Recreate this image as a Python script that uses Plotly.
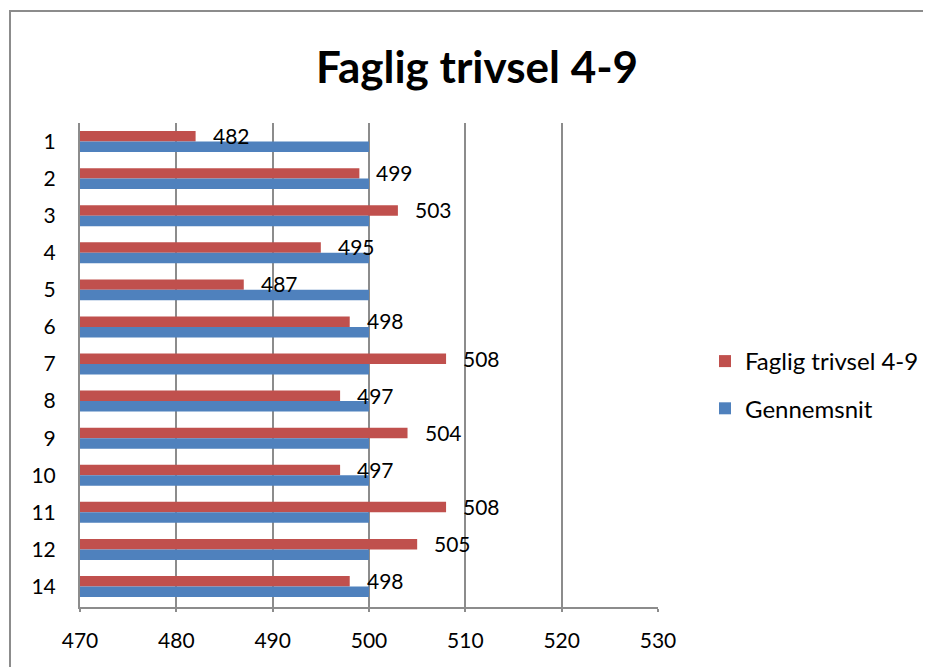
import plotly.graph_objects as go

# data
categories = ["1", "2", "3", "4", "5", "6", "7", "8", "9", "10", "11", "12", "14"]
faglig_trivsel = [482, 499, 503, 495, 487, 498, 508, 497, 504, 497, 508, 505, 498]
gennemsnit = [500] * len(categories)
x_ticks = [470, 480, 490, 500, 510, 520, 530]

# the page body adds an 8px margin, so the figure is made 8px smaller
# and reference pixel positions are shifted by the same amount
PAD = 8
W, H = 931 - PAD, 667 - PAD
RED = "#C0504D"
BLUE = "#4F81BD"
GRID = "#8C8C8C"
FONT = "Lato, 'Open Sans', sans-serif"


def px_x(x):
    return (x - PAD) / W


def px_y(y):
    return 1 - (y - PAD) / H


fig = go.Figure()
fig.add_trace(go.Bar(
    y=categories, x=faglig_trivsel, orientation="h",
    name="Faglig trivsel 4-9", marker_color=RED, legendgroup="a",
    marker_line_width=0,
))
fig.add_trace(go.Bar(
    y=categories, x=gennemsnit, orientation="h",
    name="Gennemsnit", marker_color=BLUE, legendgroup="b",
    marker_line_width=0,
))

# data labels at the end of the red bars (y given as category index)
for i, val in enumerate(faglig_trivsel):
    fig.add_annotation(
        x=val, y=i, text=str(val), showarrow=False,
        xanchor="left", yanchor="middle", xshift=15, yshift=6,
        font=dict(size=21, color="#000000", family=FONT),
    )

# title
fig.add_annotation(
    x=px_x(477), y=px_y(66), xref="paper", yref="paper",
    text="<b>Faglig trivsel 4-9</b>", showarrow=False,
    xanchor="center", yanchor="middle",
    font=dict(size=44, color="#000000", family=FONT),
)

# chart-area border (left and top edges visible)
fig.add_shape(
    type="path", xref="paper", yref="paper",
    path=f"M {px_x(10)} 0 L {px_x(10)} {px_y(11)} L 1 {px_y(11)}",
    line=dict(color=GRID, width=2),
)

fig.update_layout(
    width=W, height=H,
    margin=dict(l=0, r=0, t=0, b=0, autoexpand=False),
    paper_bgcolor="white", plot_bgcolor="white",
    barmode="group", bargap=0.435, bargroupgap=0,
    font=dict(family=FONT, size=21, color="#000000"),
    showlegend=True,
    legend=dict(
        x=px_x(705), y=px_y(385), xanchor="left", yanchor="middle",
        font=dict(size=24, family=FONT), tracegroupgap=13,
        bgcolor="rgba(0,0,0,0)",
    ),
    hovermode=False,
)
fig.update_xaxes(
    domain=[px_x(80), px_x(658)], automargin=False,
    range=[470, 530], tickvals=x_ticks,
    showgrid=True, gridcolor=GRID, gridwidth=2,
    showline=True, linecolor=GRID, linewidth=2,
    ticks="outside", ticklen=3, tickcolor=GRID, tickwidth=2,
    ticklabelstandoff=11, zeroline=False,
)
fig.update_yaxes(
    domain=[px_y(607), px_y(123)], automargin=False,
    autorange="reversed", type="category",
    showgrid=False, showline=True, linecolor=GRID, linewidth=2,
    ticks="", ticklabelstandoff=18,
)

fig.write_html("out.html")
